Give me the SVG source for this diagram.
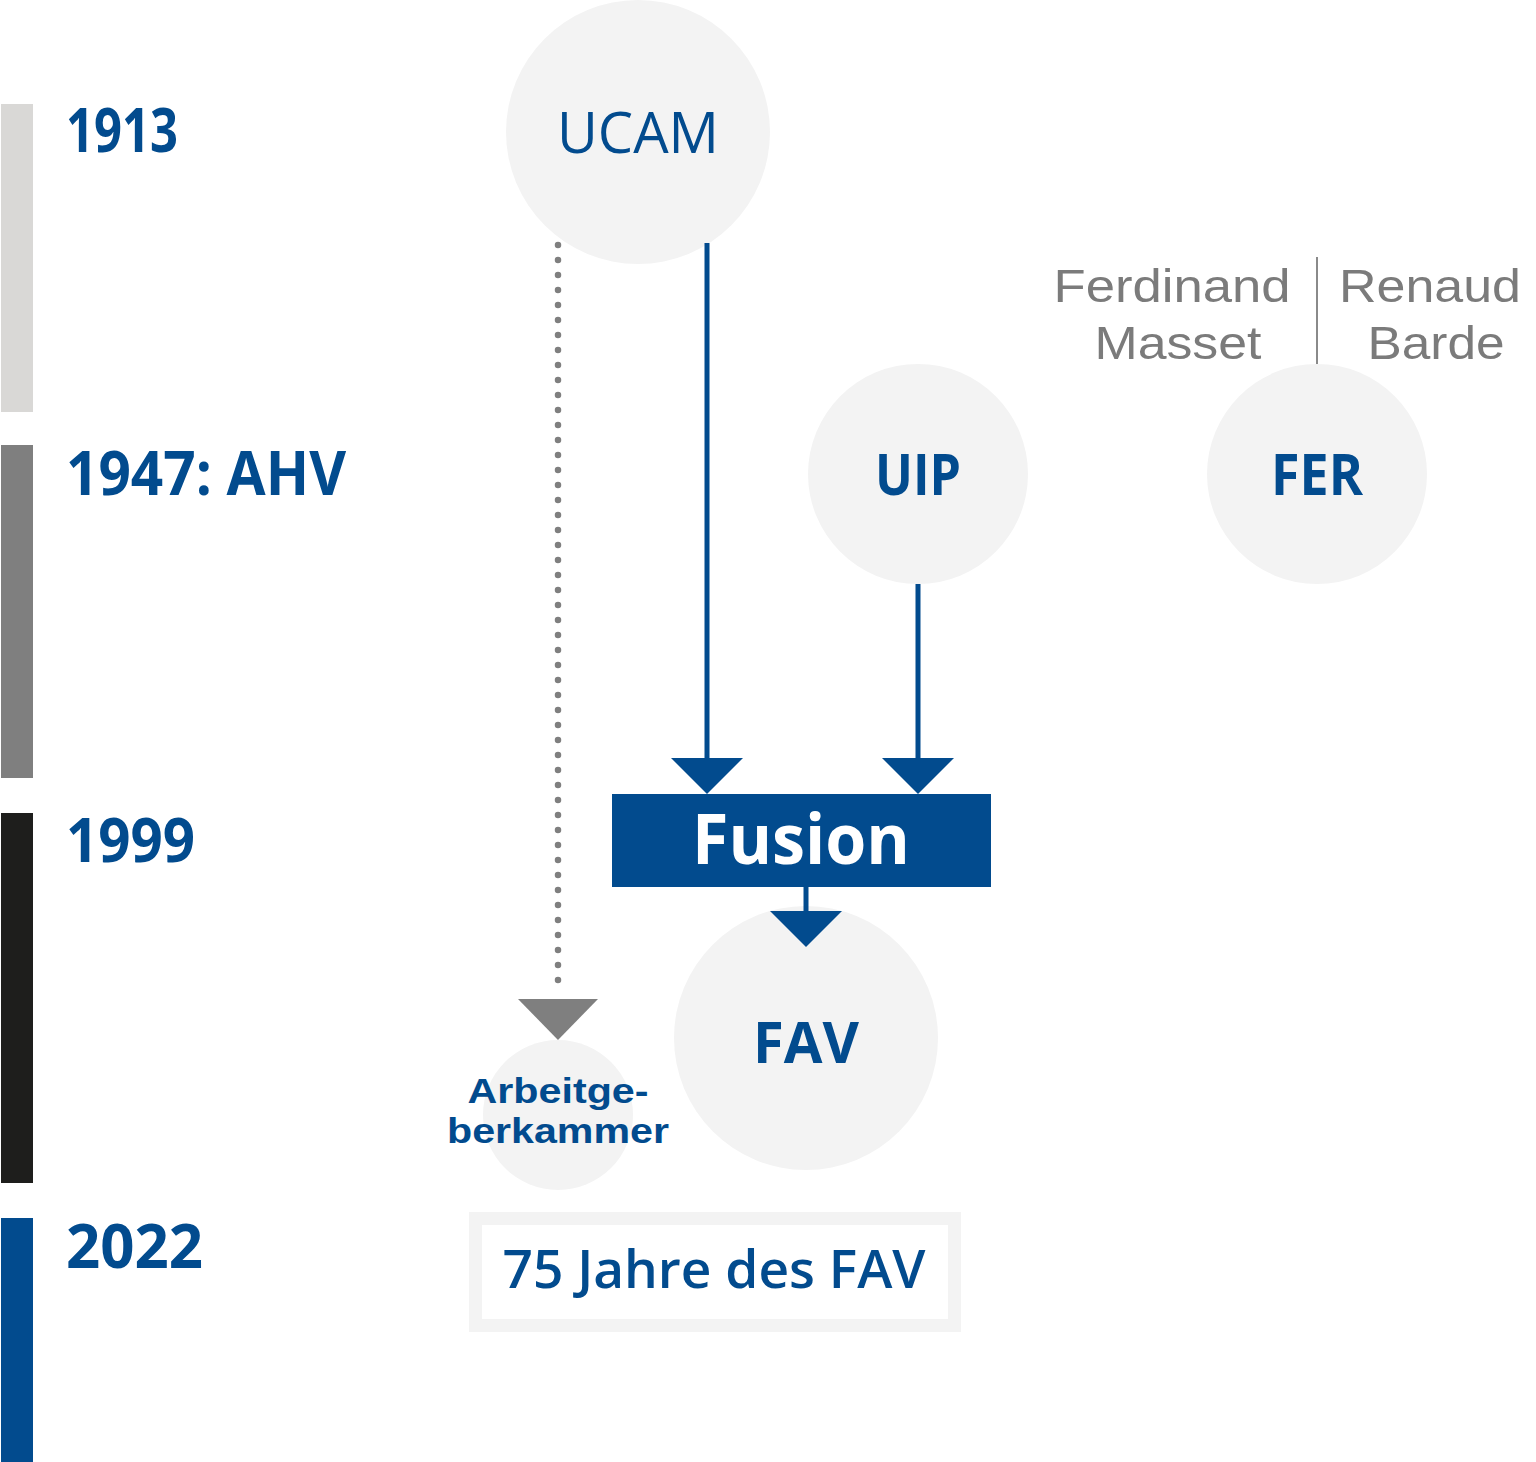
<svg xmlns="http://www.w3.org/2000/svg" width="1536" height="1462" viewBox="0 0 1536 1462">
<style>
.t{font-family:"Open Sans","Noto Sans","DejaVu Sans",sans-serif;fill:#024b8e}
.b{font-weight:700}
.s{font-weight:600}
.l{font-family:"Liberation Sans",Arial,sans-serif;fill:#024b8e;font-weight:700}
.g{font-family:"Liberation Sans",Arial,sans-serif;fill:#7b7b7b;font-size:47px;font-weight:400}
.c{fill:#f3f3f3}
.ln{stroke:#024b8e;stroke-width:5;fill:none}
.ah{fill:#024b8e}
</style>
<rect width="1536" height="1462" fill="#ffffff"/>
<g id="timeline">
<rect x="1" y="104" width="32" height="308" fill="#d9d8d6"/>
<rect x="1" y="445" width="32" height="333" fill="#7f7f7f"/>
<rect x="1" y="813" width="32" height="370" fill="#1e1e1c"/>
<rect x="1" y="1218" width="32" height="244" fill="#024b8e"/>
<text class="t b" x="66" y="152" font-size="60" textLength="112" lengthAdjust="spacingAndGlyphs">1913</text>
<text class="t b" x="66" y="495" font-size="60" textLength="280" lengthAdjust="spacingAndGlyphs">1947: AHV</text>
<text class="t b" x="66" y="862" font-size="60" textLength="129" lengthAdjust="spacingAndGlyphs">1999</text>
<text class="t b" x="66" y="1268" font-size="60" textLength="137" lengthAdjust="spacingAndGlyphs">2022</text>
</g>
<g id="node-ucam">
<circle class="c" cx="638" cy="132" r="132"/>
<text class="t" x="638" y="153" font-size="57" text-anchor="middle" textLength="162" lengthAdjust="spacingAndGlyphs">UCAM</text>
</g>
<g id="node-uip">
<circle class="c" cx="918" cy="474" r="110"/>
<text class="t b" x="918" y="495" font-size="58" text-anchor="middle" textLength="86" lengthAdjust="spacingAndGlyphs">UIP</text>
</g>
<g id="node-fer">
<circle class="c" cx="1317" cy="474" r="110"/>
<text class="t b" x="1317" y="495" font-size="58" text-anchor="middle" textLength="92" lengthAdjust="spacingAndGlyphs">FER</text>
</g>
<g id="presidents">
<line x1="1317" y1="257" x2="1317" y2="364" stroke="#8a8a8a" stroke-width="2"/>
<text class="g" x="1172" y="302" text-anchor="middle" textLength="237" lengthAdjust="spacingAndGlyphs">Ferdinand</text>
<text class="g" x="1178" y="359" text-anchor="middle" textLength="167" lengthAdjust="spacingAndGlyphs">Masset</text>
<text class="g" x="1430" y="302" text-anchor="middle" textLength="182" lengthAdjust="spacingAndGlyphs">Renaud</text>
<text class="g" x="1436" y="359" text-anchor="middle" textLength="137" lengthAdjust="spacingAndGlyphs">Barde</text>
</g>
<g id="node-fusion">
<rect x="612" y="794" width="379" height="93" fill="#024b8e"/>
<text class="t b" x="801" y="864" font-size="69" text-anchor="middle" style="fill:#ffffff" textLength="218" lengthAdjust="spacingAndGlyphs">Fusion</text>
</g>
<g id="node-fav">
<circle class="c" cx="806" cy="1038" r="132"/>
<text class="t b" x="806" y="1063" font-size="58" text-anchor="middle" textLength="106" lengthAdjust="spacingAndGlyphs">FAV</text>
</g>
<g id="node-arbeitgeberkammer">
<circle class="c" cx="558" cy="1115" r="75"/>
<text class="l" x="558" y="1103" font-size="34.5" text-anchor="middle" textLength="181" lengthAdjust="spacingAndGlyphs">Arbeitge-</text>
<text class="l" x="558" y="1143" font-size="34.5" text-anchor="middle" textLength="222" lengthAdjust="spacingAndGlyphs">berkammer</text>
</g>
<g id="node-75jahre">
<rect x="475.5" y="1218.5" width="479" height="107" fill="#ffffff" stroke="#f3f3f3" stroke-width="13"/>
<text class="t s" x="714" y="1288" font-size="52" text-anchor="middle" textLength="423" lengthAdjust="spacingAndGlyphs">75 Jahre des FAV</text>
</g>
<g id="connectors">
<line class="ln" x1="707" y1="243" x2="707" y2="762"/>
<polygon class="ah" points="671,758 743,758 707,794"/>
<line class="ln" x1="918" y1="584" x2="918" y2="762"/>
<polygon class="ah" points="882,758 954,758 918,794"/>
<line class="ln" x1="806" y1="885" x2="806" y2="915"/>
<polygon class="ah" points="770,911 842,911 806,947"/>
<line x1="558" y1="245" x2="558" y2="992" stroke="#7f7f7f" stroke-width="6.5" stroke-linecap="round" stroke-dasharray="0 15"/>
<polygon points="518,999 598,999 558,1040" fill="#7f7f7f"/>
</g>
</svg>
